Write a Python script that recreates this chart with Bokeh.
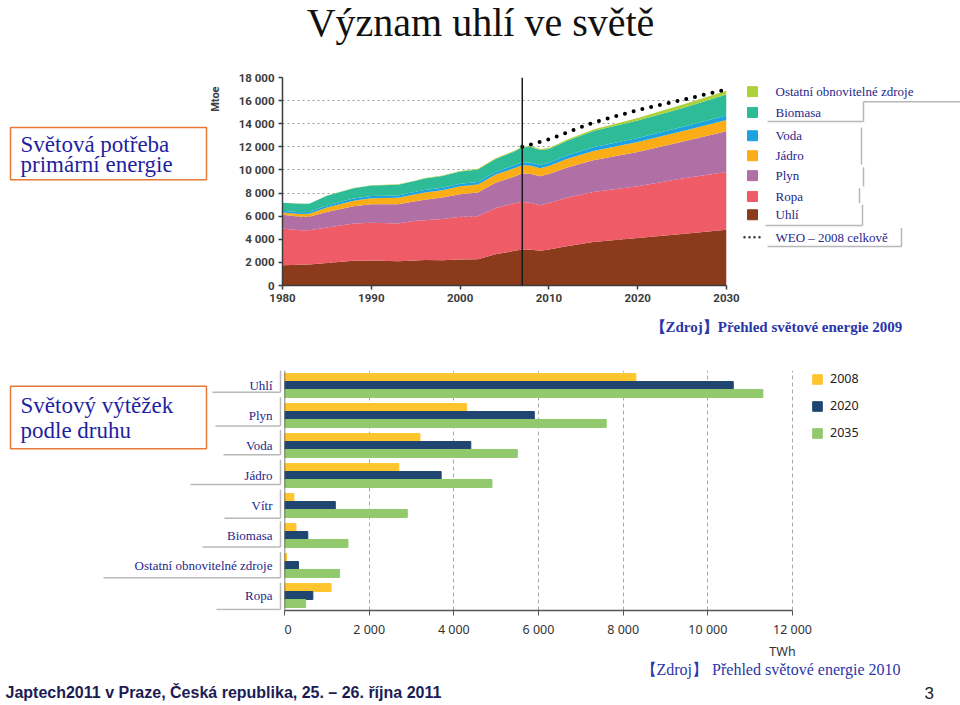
import math
from bokeh.plotting import figure
from bokeh.layouts import column, row
from bokeh.models import (ColumnDataSource, Range1d, FactorRange, FixedTicker, Span,
                          Legend, LegendItem)
from bokeh.transform import dodge
from bokeh.core.properties import value
from bokeh.embed import file_html
from bokeh.resources import INLINE

# ================= DATA =================
# World primary energy demand (Mtoe), stacked by source
years = [1980, 1982, 1983, 1985, 1988, 1990, 1993, 1995, 1996, 1998, 2000, 2002, 2004,
         2006, 2007, 2008, 2009, 2010, 2012, 2015, 2020, 2025, 2030]
coal = [1750, 1800, 1820, 1950, 2150, 2170, 2100, 2170, 2200, 2180, 2250, 2280, 2700,
        2980, 3120, 3100, 3000, 3120, 3400, 3760, 4100, 4450, 4830]
oil = [3180, 2980, 2960, 3070, 3210, 3250, 3260, 3430, 3450, 3570, 3690, 3720, 4000,
       4120, 4120, 4050, 3940, 4020, 4200, 4330, 4480, 4800, 5000]
gas = [1200, 1180, 1180, 1350, 1500, 1620, 1680, 1700, 1780, 1860, 1960, 2050, 2200,
       2300, 2450, 2500, 2510, 2500, 2600, 2750, 2980, 3180, 3520]
nuclear = [180, 220, 250, 380, 480, 520, 560, 600, 620, 640, 680, 690, 710,
           720, 710, 710, 700, 700, 750, 800, 860, 910, 970]
hydro = [150, 155, 160, 170, 180, 185, 195, 210, 212, 218, 225, 225, 240,
         260, 265, 270, 275, 280, 295, 320, 350, 380, 400]
biomass = [700, 750, 700, 850, 900, 900, 930, 950, 1000, 1000, 1050, 1080, 1100,
           1180, 1300, 1350, 1300, 1200, 1250, 1400, 1500, 1620, 1800]
other = [10, 12, 13, 15, 20, 25, 30, 35, 38, 45, 50, 55, 60,
         65, 70, 75, 80, 85, 110, 150, 220, 300, 330]
energy_keys = ["coal", "oil", "gas", "nuclear", "hydro", "biomass", "other"]
energy_labels = ["Uhlí", "Ropa", "Plyn", "Jádro", "Voda", "Biomasa",
                 "Ostatní obnovitelné zdroje"]
weo_years = [2007, 2010, 2015, 2020, 2025, 2030]
weo_total = [12000, 12650, 14100, 15180, 16050, 16970]
base_year = 2007
y_ticks_mtoe = [0, 2000, 4000, 6000, 8000, 10000, 12000, 14000, 16000, 18000]
y_tick_labels_mtoe = ["0", "2 000", "4 000", "6 000", "8 000", "10 000", "12 000",
                      "14 000", "16 000", "18 000"]
x_ticks_years = [1980, 1990, 2000, 2010, 2020, 2030]

# World electricity generation by source (TWh)
gen_categories = ["Uhlí", "Plyn", "Voda", "Jádro", "Vítr", "Biomasa",
                  "Ostatní obnovitelné zdroje", "Ropa"]
gen_2008 = [8300, 4300, 3200, 2700, 220, 270, 50, 1100]
gen_2020 = [10600, 5900, 4400, 3700, 1200, 550, 330, 670]
gen_2035 = [11300, 7600, 5500, 4900, 2900, 1500, 1300, 500]
gen_series = ["2008", "2020", "2035"]
twh_ticks = [0, 2000, 4000, 6000, 8000, 10000, 12000]
twh_tick_labels = ["0", "2 000", "4 000", "6 000", "8 000", "10 000", "12 000"]

# ================= STYLE =================
SERIF = "Liberation Serif"
NAVY = "#26268a"
BOXTEXT = "#1f1fa0"
BLUE_SRC = "#2b36a8"
ORANGE = "#e57a3a"
GREYLINE = "#b8b8b8"
AX = "#3d3d3d"
energy_colors = ["#8b3a1b", "#ef5b67", "#b06fa5", "#fbad18", "#1ba2df", "#2ebc98", "#acd13a"]
bar_colors = ["#fec52e", "#1f4570", "#92c96d"]


def blank(width, height, x0, x1, y_top, y_bottom):
    p = figure(width=width, height=height, x_range=Range1d(x0, x1),
               y_range=Range1d(y_bottom, y_top), output_backend="svg",
               toolbar_location=None, x_axis_type=None, y_axis_type=None,
               min_border=0, outline_line_color=None)
    return p


# ---------- title ----------
pt = blank(960, 62, 0, 960, 0, 62)
pt.text(x=[480], y=[22], text=["Význam uhlí ve světě"], text_font=value(SERIF),
        text_font_size="40px", text_align="center", text_baseline="middle",
        text_color="#111111")

# ---------- left box A ----------
pla = blank(223, 250, 0, 223, 62, 312)
pla.quad(left=[10], right=[206], top=[122], bottom=[185], fill_color=None,
         line_color=ORANGE, line_width=1.5)
pla.text(x=[20, 20], y=[142, 167], text=["Světová potřeba", "primární energie"],
         text_font=value(SERIF), text_font_size="23px", text_align="left",
         text_baseline="middle", text_color=BOXTEXT)
pla.text(x=[215], y=[88], text=["Mtoe"], angle=math.pi / 2, text_font=value("Roboto"),
         text_font_style="bold", text_font_size="11px", text_align="center",
         text_baseline="middle", text_color=AX)

# ---------- area chart ----------
pa = figure(width=519, height=250, x_range=Range1d(1980, 2030), y_range=Range1d(0, 18000),
            output_backend="svg", toolbar_location=None, min_border_left=59,
            min_border_right=16, min_border_top=15, min_border_bottom=27,
            outline_line_color=None)
src = ColumnDataSource(dict(year=years, coal=coal, oil=oil, gas=gas, nuclear=nuclear,
                            hydro=hydro, biomass=biomass, other=other))
pa.varea_stack(stackers=energy_keys, x="year", color=energy_colors, source=src)
pa.xgrid.visible = False
pa.ygrid.ticker = FixedTicker(ticks=y_ticks_mtoe)
pa.ygrid.grid_line_color = "#9a9a9a"
pa.ygrid.grid_line_dash = "2 3"
pa.ygrid.level = "underlay"
pa.xaxis.ticker = FixedTicker(ticks=x_ticks_years)
pa.yaxis.ticker = FixedTicker(ticks=y_ticks_mtoe)
pa.yaxis.major_label_overrides = {t: l for t, l in zip(y_ticks_mtoe, y_tick_labels_mtoe)}
for ax in (pa.xaxis, pa.yaxis):
    ax.axis_line_color = AX
    ax.axis_line_width = 1.5
    ax.major_tick_line_color = AX
    ax.major_tick_line_width = 1.5
    ax.major_tick_out = 4
    ax.major_tick_in = 0
    ax.minor_tick_line_color = None
    ax.major_label_text_font = "Roboto"
    ax.major_label_text_font_style = "bold"
    ax.major_label_text_font_size = "11.5px"
    ax.major_label_text_color = AX
    ax.major_label_standoff = 4
pa.add_layout(Span(location=base_year, dimension="height", line_color="#1a1a1a",
                   line_width=1.5))
pa.line(weo_years, weo_total, line_color="black", line_width=4, line_dash="0 9",
        line_cap="round")

# ---------- legend A ----------
pga = blank(218, 250, 742, 960, 62, 312)
leg_y = [79, 104, 132, 156, 180, 205, 227]
leg_labels = list(reversed(energy_labels))
leg_colors = list(reversed(energy_colors))
grey_xs = [[863, 960], [863, 863], [767, 863], [861, 861], [863, 863], [859, 859],
           [862, 862], [765, 862], [901, 901], [767, 901]]
grey_ys = [[91, 91], [91, 115], [115, 115], [122, 167], [170, 193], [195, 213],
           [215, 240], [240, 240], [243, 265], [265, 265]]
pga.multi_line(xs=grey_xs, ys=grey_ys, line_color=GREYLINE, line_width=1.5)
pga.scatter(x=[752] * len(leg_y), y=leg_y, marker="square", size=10, color=leg_colors)
pga.text(x=[775] * len(leg_y), y=leg_y, text=leg_labels, text_font=value(SERIF),
         text_font_size="13px", text_baseline="middle", text_color=NAVY)
pga.line(x=[744, 764], y=[254, 254], line_color="#333333", line_width=2.5,
         line_dash="0 5", line_cap="round")
pga.text(x=[775], y=[254], text=["WEO – 2008 celkově"], text_font=value(SERIF),
         text_font_size="13px", text_baseline="middle", text_color=NAVY)

# ---------- source 2009 ----------
ps = blank(960, 32, 0, 960, 312, 344)
ps.text(x=[650], y=[326], text=["【Zdroj】Přehled světové energie 2009"],
        text_font=value(SERIF), text_font_style="bold", text_font_size="15px",
        text_baseline="middle", text_color=BLUE_SRC)

# ---------- bar chart ----------
gen_range = FactorRange(factors=list(reversed(gen_categories)))
FRAME_L, FRAME_R_12000, CANVAS_R = 284, 792, 960
FRAME_TOP, FRAME_BOTTOM = 370, 612
pb = figure(width=CANVAS_R - FRAME_L, height=296,
            x_range=Range1d(0, 12000 * (CANVAS_R - FRAME_L) / (FRAME_R_12000 - FRAME_L)),
            y_range=gen_range, output_backend="svg", toolbar_location=None,
            min_border_left=0, min_border_right=0, min_border_top=26, min_border_bottom=28,
            outline_line_color=None)
bsrc = ColumnDataSource(dict(cat=gen_categories, v2008=gen_2008, v2020=gen_2020,
                             v2035=gen_2035))
bh = 0.265
renderers = []
for key, off, col in zip(["v2008", "v2020", "v2035"], [bh, 0, -bh], bar_colors):
    r = pb.hbar(y=dodge("cat", off, range=pb.y_range), left=0, right=key, height=bh,
                color=col, source=bsrc)
    renderers.append(r)
pb.ygrid.visible = False
pb.yaxis.visible = False
pb.add_layout(Span(location=0, dimension="height", line_color="#5a5a5a", line_width=1.5))
pb.xgrid.ticker = FixedTicker(ticks=twh_ticks[1:])
pb.xgrid.grid_line_color = "#a8a8a8"
pb.xgrid.grid_line_dash = "4 3"
pb.xgrid.level = "underlay"
pb.xaxis.ticker = FixedTicker(ticks=twh_ticks)
pb.xaxis.bounds = (twh_ticks[0], twh_ticks[-1])
pb.xaxis.major_label_overrides = {t: l for t, l in zip(twh_ticks, twh_tick_labels)}
pb.xaxis.axis_line_color = "#555555"
pb.xaxis.axis_line_width = 1.5
pb.xaxis.major_tick_line_color = "#555555"
pb.xaxis.major_tick_out = 5
pb.xaxis.major_tick_in = 0
pb.xaxis.minor_tick_line_color = None
pb.xaxis.major_label_text_font = "Noto Sans"
pb.xaxis.major_label_text_font_size = "12.5px"
pb.xaxis.major_label_text_color = "#333333"
pb.xaxis.major_label_standoff = 5
legend = Legend(items=[LegendItem(label=s, renderers=[r]) for s, r in zip(gen_series, renderers)],
                location=(527, 169), orientation="vertical", background_fill_alpha=0,
                border_line_color=None, padding=0, margin=0, glyph_width=12,
                glyph_height=12, label_height=16, spacing=10, label_standoff=7,
                label_text_font="Noto Sans", label_text_font_size="12.5px",
                label_text_color="#222222")
pb.add_layout(legend)

# ---------- left B (box + category labels sharing the bar chart's category scale) ----------
plb = figure(width=FRAME_L, height=296, x_range=Range1d(0, FRAME_L), y_range=gen_range,
             output_backend="svg", toolbar_location=None, x_axis_type=None,
             y_axis_type=None, min_border_left=0, min_border_right=0,
             min_border_top=26, min_border_bottom=28, outline_line_color=None)


def sy(page_y):
    # page pixel -> synthetic categorical coordinate of the shared frame
    return (FRAME_BOTTOM - page_y) * len(gen_categories) / (FRAME_BOTTOM - FRAME_TOP)


plb.quad(left=[10], right=[206], top=[sy(386)], bottom=[sy(449)], fill_color=None,
         line_color=ORANGE, line_width=1.5)
plb.text(x=[20, 20], y=[sy(405), sy(431)], text=["Světový výtěžek", "podle druhu"],
         text_font=value(SERIF), text_font_size="23px", text_baseline="middle",
         text_color=BOXTEXT)
ul_x0 = [212, 215, 223, 190, 224, 202, 103, 216]
ul_top = [370, 397, 430, 460, 490, 522, 553, 584]
ul_bot = [392, 426, 455, 485, 519, 548, 579, 611]
xs = [[x0, 280] for x0 in ul_x0] + [[280, 280] for _ in ul_top]
ys = [[sy(b), sy(b)] for b in ul_bot] + [[sy(t), sy(b)] for t, b in zip(ul_top, ul_bot)]
plb.multi_line(xs=xs, ys=ys, line_color=GREYLINE, line_width=1.5)
plb.text(x=[272] * len(gen_categories), y=gen_categories, text=gen_categories,
         text_font=value(SERIF), text_font_size="13px", text_align="right",
         text_baseline="middle", text_color=NAVY)

# ---------- footer ----------
pf = blank(960, 64, 0, 960, 640, 704)
pf.text(x=[782], y=[651], text=["TWh"], text_font=value("Noto Sans"),
        text_font_size="12.5px", text_align="center", text_baseline="middle",
        text_color="#333333")
pf.text(x=[640], y=[669], text=["【Zdroj】 Přehled světové energie 2010"],
        text_font=value(SERIF), text_font_size="16px", text_baseline="middle",
        text_color=BLUE_SRC)
pf.text(x=[5], y=[692], text=["Japtech2011  v Praze,  Česká republika, 25. – 26. října 2011"],
        text_font=value("Liberation Sans"), text_font_style="bold", text_font_size="16px",
        text_baseline="middle", text_color="#1c1c54")
pf.text(x=[924], y=[692], text=["3"], text_font=value("Liberation Sans"),
        text_font_size="17px", text_baseline="middle", text_color="#222222")

layout = column(pt, row(pla, pa, pga), ps, row(plb, pb), pf)
open("out.html", "w").write(file_html(layout, INLINE))
